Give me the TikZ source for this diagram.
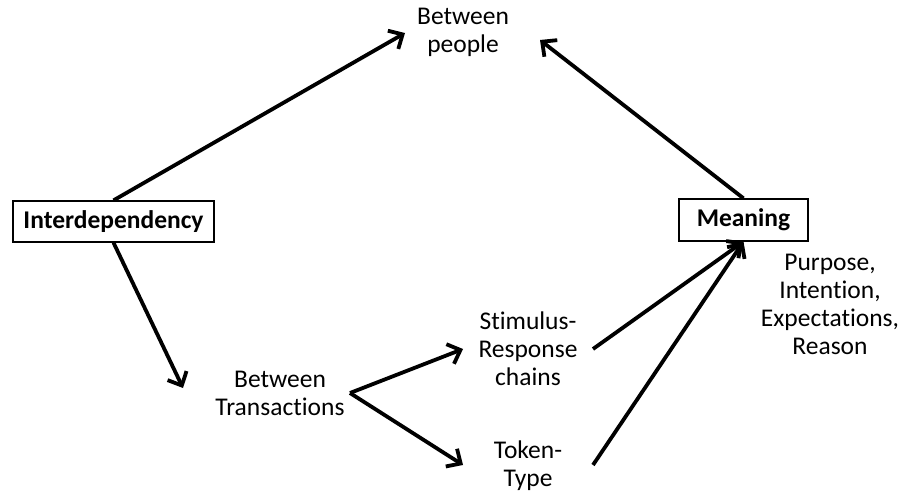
\documentclass[tikz,border=0pt]{standalone}
\usepackage{fontspec}
\setmainfont{Carlito}[Ligatures=NoCommon]
\usetikzlibrary{arrows.meta}
\begin{document}
\begin{tikzpicture}[x=1pt,y=-1pt,
  conceptbox/.style={draw, line width=1.3pt, inner sep=0pt, font=\bfseries},
  lbl/.style={align=center, inner sep=2pt},
  link/.style={line width=3.8pt, -{Straight Barb[length=11pt,width=21pt,line width=3.8pt]}},
  plain/.style={line width=3.8pt}]
  \fontsize{25.5}{28}\selectfont
  \useasboundingbox (0,0) rectangle (903,497);

  % concept boxes
  \node[conceptbox, minimum width=201pt, minimum height=41pt] (inter) at (113.5,221.5) {Interdependency};
  \node[conceptbox, minimum width=129pt, minimum height=42pt] (mean) at (743.5,220) {Meaning};

  % plain labels
  \node[lbl] (people) at (463,32) {Between\\people};
  \node[lbl] (trans) at (280,393.5) {Between\\Transactions};
  \node[lbl] (sr) at (528,349) {Stimulus-\\Response\\chains};
  \node[lbl] (tt) at (528,466) {Token-\\Type};
  \node[lbl] (purp) at (830,304) {Purpose,\\Intention,\\Expectations,\\Reason};

  % connector end points
  \coordinate (peopleL) at (405,33);
  \coordinate (peopleR) at (540,40);
  \coordinate (transIn) at (183,388);
  \coordinate (fork) at (350,393);
  \coordinate (srIn) at (463,349);
  \coordinate (ttIn) at (463,465);
  \coordinate (srOut) at (593,349);
  \coordinate (ttOut) at (593,465);

  % connectors
  \draw[link] (inter.north) -- (peopleL);
  \draw[link] (mean.north) -- (peopleR);
  \draw[link] (inter.south) -- (transIn);
  \draw[link] (fork) -- (srIn);
  \draw[link] (fork) -- (ttIn);
  \draw[link] (srOut) -- (mean.south);
  \draw[link] (ttOut) -- (mean.south);
\end{tikzpicture}
\end{document}
